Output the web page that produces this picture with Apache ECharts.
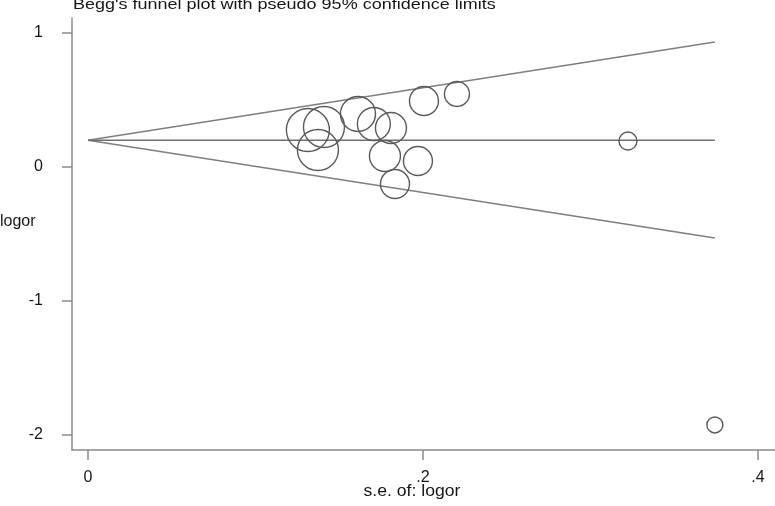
<!DOCTYPE html>
<html>
<head>
<meta charset="utf-8">
<script src="https://cdn.jsdelivr.net/npm/echarts@6/dist/echarts.min.js"></script>
<style>
html,body{margin:0;padding:0;background:#fff;}
#chart{width:775px;height:506px;}
</style>
</head>
<body>
<div id="chart"></div>
<script>
// ---- data ----
var studySe    = [0.1313, 0.1409, 0.1373, 0.1612, 0.1707, 0.1809, 0.1773, 0.1970, 0.1833, 0.2006, 0.2203, 0.3224, 0.3743];
var studyLogor = [0.276, 0.299, 0.127, 0.396, 0.321, 0.291, 0.082, 0.045, -0.127, 0.493, 0.545, 0.194, -1.925];
var studyMarkerDiam = [43, 41, 41, 35, 33, 31, 31, 29, 29, 29, 25, 18, 16];
var limitSe    = [0, 0.3743];
var pooledLine = [0.2, 0.2];
var upperLimit = [0.2, 0.933];
var lowerLimit = [0.2, -0.530];
var xTicks = [0, 0.2, 0.4];
var yTicks = [-2, -1, 0, 1];
var titleText = "Begg's funnel plot with pseudo 95% confidence limits";
var xName = "s.e. of: logor";
var yName = "logor";

function pairs(xs, ys){ return xs.map(function(x,i){ return [x, ys[i]]; }); }
function fmt(v){ if (Math.abs(v) < 1e-9) return '0'; var s = String(Math.round(v*10)/10); return s.replace(/^0\./,'.').replace(/^-0\./,'-.'); }

var FONT = 'Liberation Sans, Arial, sans-serif';
var chart = echarts.init(document.getElementById('chart'), null, {renderer:'canvas'});
var axisColor = '#8a8a8a';
var textColor = '#161616';
var option = {
  animation:false,
  backgroundColor:'#ffffff',
  grid:{left:72, right:0, top:18, bottom:56, containLabel:false},
  xAxis:{
    type:'value', min:-0.00955, max:0.4102,
    axisLine:{show:true, onZero:false, lineStyle:{color:axisColor, width:1.5}},
    axisTick:{show:true, customValues:xTicks, length:10, inside:false, lineStyle:{color:axisColor, width:1.5}},
    axisLabel:{show:true, customValues:xTicks, formatter:fmt, margin:20, color:textColor, fontSize:16, fontFamily:FONT},
    splitLine:{show:false}
  },
  yAxis:{
    type:'value', min:-2.112, max:1.112,
    axisLine:{show:true, onZero:false, lineStyle:{color:axisColor, width:1.5}},
    axisTick:{show:true, customValues:yTicks, length:10, inside:false, lineStyle:{color:axisColor, width:1.5}},
    axisLabel:{show:true, customValues:yTicks, formatter:fmt, margin:29, color:textColor, fontSize:16, fontFamily:FONT},
    splitLine:{show:false}
  },
  graphic:[
    {type:'text', x:73, y:5, scaleX:1.2, style:{text:titleText, font:'15px '+FONT, fill:textColor, textAlign:'left', textVerticalAlign:'middle'}},
    {type:'text', x:412, y:492, scaleX:1.1, style:{text:xName, font:'16px '+FONT, fill:textColor, textAlign:'center', textVerticalAlign:'middle'}},
    {type:'text', x:0, y:222, scaleX:1.0, style:{text:yName, font:'16px '+FONT, fill:textColor, textAlign:'left', textVerticalAlign:'middle'}}
  ],
  series:[
    {type:'line', data:pairs(limitSe, upperLimit), symbol:'none', lineStyle:{color:'#7f7f7f', width:1.6}},
    {type:'line', data:pairs(limitSe, lowerLimit), symbol:'none', lineStyle:{color:'#7f7f7f', width:1.6}},
    {type:'line', data:pairs(limitSe, pooledLine), symbol:'none', lineStyle:{color:'#6f6f6f', width:1.6}},
    {type:'scatter', data:pairs(studySe, studyLogor),
      symbol:'circle',
      symbolSize:function(v, p){ return studyMarkerDiam[p.dataIndex]; },
      itemStyle:{color:'rgba(0,0,0,0)', borderColor:'#5a5a5a', borderWidth:1.4, opacity:1},
      z:5}
  ]
};
chart.setOption(option);
</script>
</body>
</html>
